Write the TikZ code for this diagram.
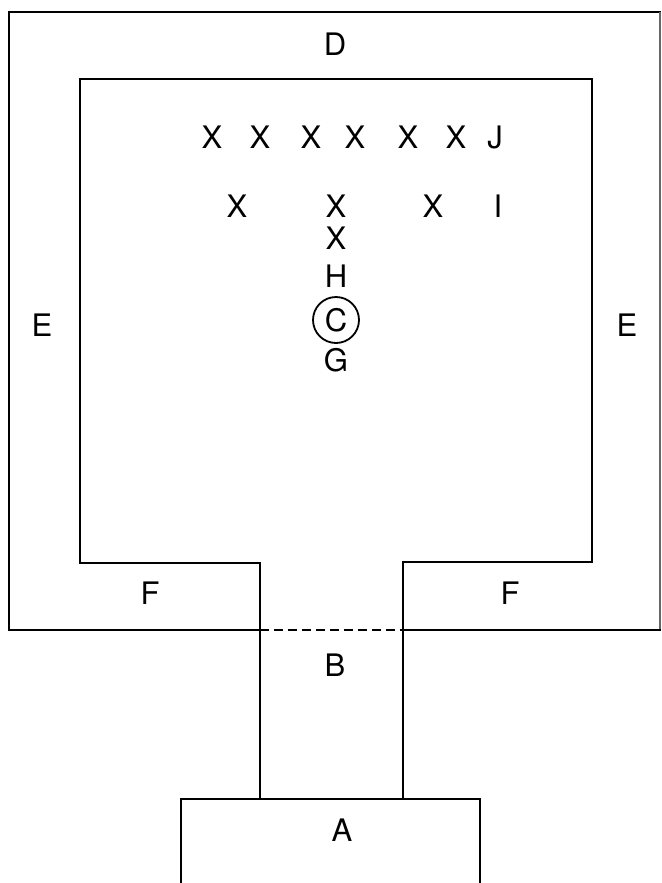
\documentclass[tikz,border=0pt]{standalone}
\usepackage{fontspec}
\setmainfont{TeX Gyre Heros}
\begin{document}
\begin{tikzpicture}[x=1pt,y=-1pt,
  wall/.style={line width=2pt, line join=miter},
  lab/.style={inner sep=0pt, font=\fontsize{31}{34}\selectfont},
  player/.style={lab}]
\useasboundingbox (0,0) rectangle (661,883);
% outer wall
\draw[wall] (260,630) -- (9,630) -- (9,12) -- (661,12);
\draw[line width=1.2pt, black!60] (660,12) -- (660,630);
\draw[wall] (403,630) -- (661,630);
% inner wall
\draw[wall] (260,800) -- (260,563) -- (80,563) -- (80,79) -- (592,79) -- (592,562) -- (403,562) -- (403,800);
% dashed opening
\draw[line width=1.5pt, dash pattern=on 9pt off 5pt] (260,630) -- (403,630);
% box A
\draw[wall] (181,884) -- (181,799) -- (480,799) -- (480,884);
% labels
\node[lab] (D) at (335,44) {D};
\node[lab] (E1) at (42,325) {E};
\node[lab] (E2) at (627,325) {E};
\node[lab] (F1) at (150,593) {F};
\node[lab] (F2) at (510,593) {F};
\node[lab] (B) at (335,665) {B};
\node[lab] (A) at (342,830) {A};
% players
\foreach \x/\n in {212/1,260/2,311/3,355/4,408/5,456/6}
  \node[player] (x\n) at (\x,137) {X};
\node[lab] (J) at (495,137) {J};
\node[player] (x7) at (237,206) {X};
\node[player] (x8) at (336,206) {X};
\node[player] (x9) at (433,206) {X};
\node[lab] (I) at (498,206) {I};
\node[player] (x10) at (336,238) {X};
\node[lab] (H) at (336,276) {H};
\node[lab, draw, circle, line width=1.8pt, minimum size=46pt] (C) at (336,320) {C};
\node[lab] (G) at (336,360) {G};
\end{tikzpicture}
\end{document}
